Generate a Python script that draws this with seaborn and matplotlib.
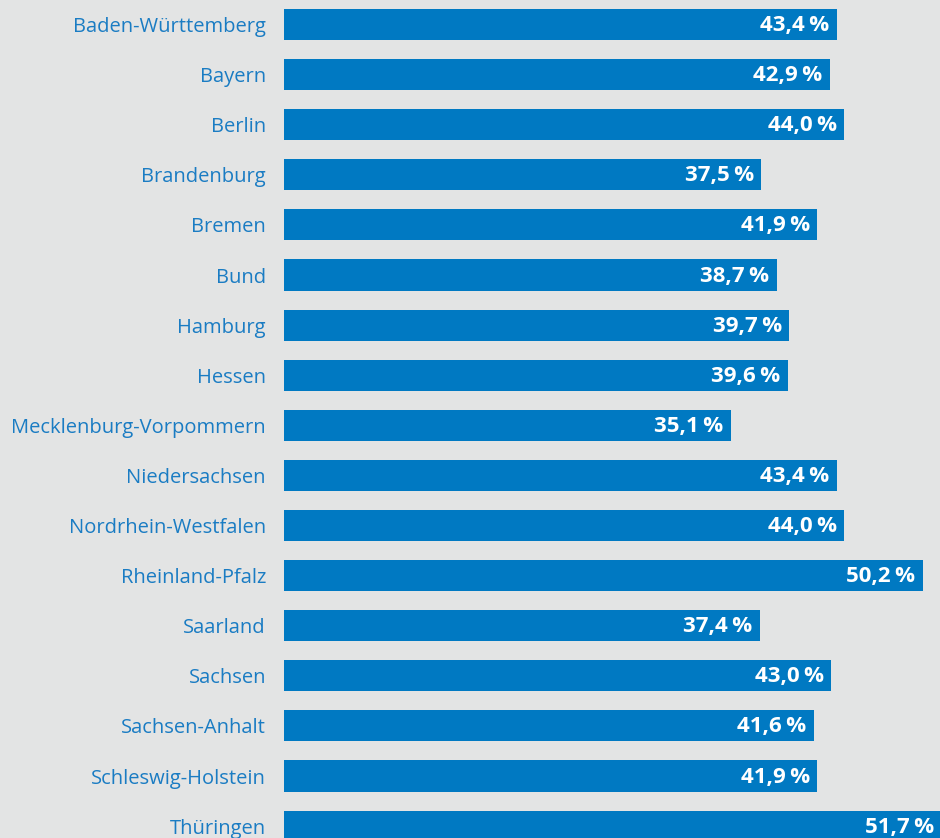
import matplotlib.pyplot as plt
import pandas as pd
import seaborn as sns

# Data
laender = ['Baden-Württemberg', 'Bayern', 'Berlin', 'Brandenburg', 'Bremen', 'Bund',
           'Hamburg', 'Hessen', 'Mecklenburg-Vorpommern', 'Niedersachsen',
           'Nordrhein-Westfalen', 'Rheinland-Pfalz', 'Saarland', 'Sachsen',
           'Sachsen-Anhalt', 'Schleswig-Holstein', 'Thüringen']
anteil = [43.4, 42.9, 44.0, 37.5, 41.9, 38.7, 39.7, 39.6, 35.1, 43.4,
          44.0, 50.2, 37.4, 43.0, 41.6, 41.9, 51.7]

df = pd.DataFrame({'land': laender, 'anteil': anteil})

bg = '#e3e4e4'
blue = '#0079c2'
label_blue = '#1a7cc3'

sns.set_style('white')
plt.rcParams['font.family'] = ['Open Sans', 'DejaVu Sans']

fig = plt.figure(figsize=(9.4, 8.38), dpi=100, facecolor=bg)
ax = fig.add_axes([284 / 940, 0, 656 / 940, 1])
ax.set_facecolor(bg)

sns.barplot(data=df, x='anteil', y='land', orient='h', color=blue,
            saturation=1, width=0.62, linewidth=0, ax=ax)

for i, v in enumerate(anteil):
    ax.text(v - 0.6, i + 0.02, f'{v:.1f}\u2009%'.replace('.', ','), color='white',
            fontsize=16, fontweight='bold', ha='right', va='center',
            clip_on=False)

ax.set_xlim(0, 51.53)
ax.set_ylim(16.237, -0.489)
ax.set_xlabel('')
ax.set_ylabel('')
ax.set_xticks([])
ax.tick_params(axis='y', length=0, pad=13, labelsize=14.5, labelcolor=label_blue)
for s in ax.spines.values():
    s.set_visible(False)

fig.savefig('out.png', dpi=100, facecolor=bg)
